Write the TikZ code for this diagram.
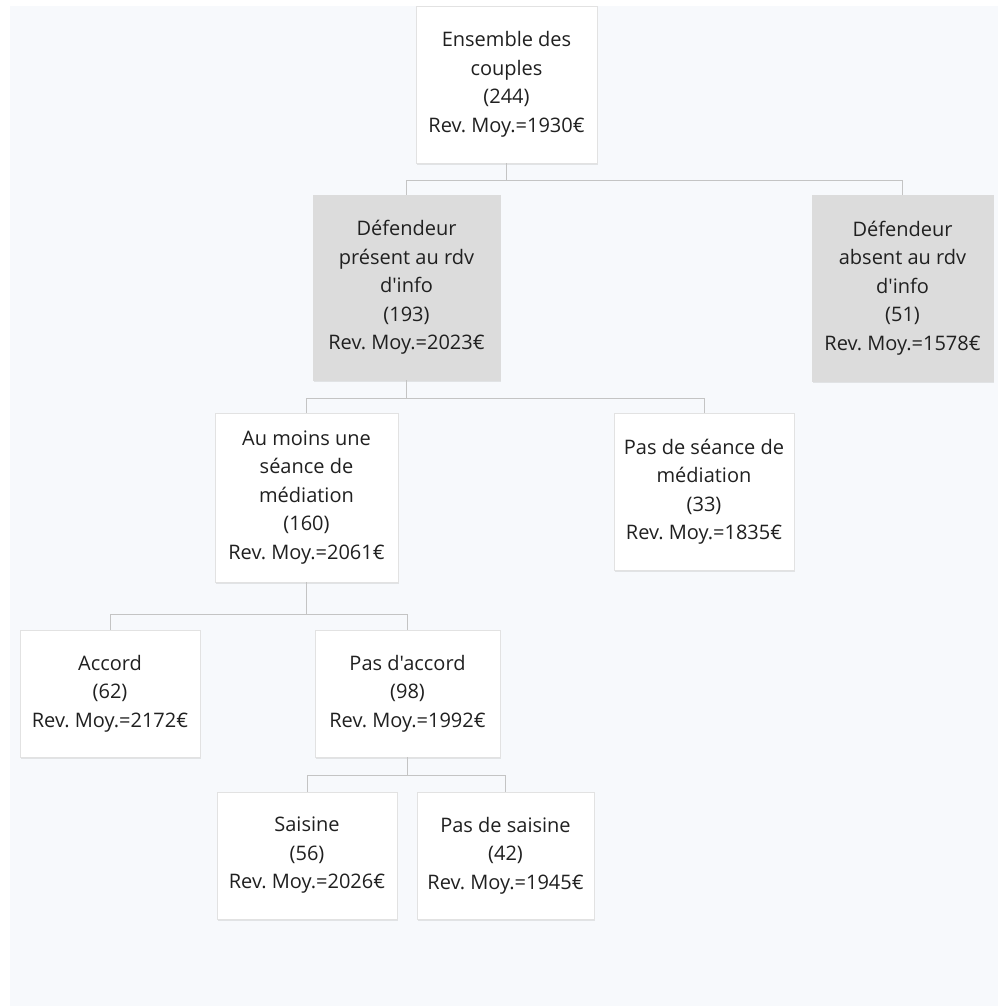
\documentclass[tikz,border=0pt]{standalone}
\usepackage{fontspec}
\setmainfont{Open Sans}[Ligatures=TeXOff]
\usetikzlibrary{shadows}
\definecolor{bgc}{HTML}{F7F9FC}
\definecolor{grayfill}{HTML}{DCDCDC}
\definecolor{linec}{HTML}{C4C4C4}
\definecolor{edgec}{HTML}{E2E2E2}
\definecolor{txt}{HTML}{202020}
\frenchspacing
\begin{document}
\begin{tikzpicture}[x=1pt,y=-1pt,
  box/.style={rectangle, draw=edgec, line width=0.6pt, fill=white, align=center,
    inner sep=0pt, text=txt, font=\fontsize{20}{28.5}\selectfont,
    drop shadow={opacity=0.18, shadow xshift=1pt, shadow yshift=-2pt}},
  graybox/.style={box, fill=grayfill, draw=grayfill},
  conn/.style={draw=linec, line width=1pt}]
\useasboundingbox (0,0) rectangle (998,1006);
\fill[white] (0,0) rectangle (998,1006);
\fill[bgc] (10,6) rectangle (998,1006);

\node[box, minimum width=181pt, minimum height=157pt] (root) at (506.5,84.5)
  {Ensemble des\\couples\\(244)\\Rev. Moy.=1930€};
\node[graybox, minimum width=187pt, minimum height=185pt] (pres) at (406.5,287.5)
  {Défendeur\\présent au rdv\\d'info\\(193)\\Rev. Moy.=2023€};
\node[graybox, minimum width=181pt, minimum height=186pt] (abs) at (902.5,288)
  {Défendeur\\absent au rdv\\d'info\\(51)\\Rev. Moy.=1578€};
\node[box, minimum width=183pt, minimum height=169pt] (aumoins) at (306.5,497.5)
  {Au moins une\\séance de\\médiation\\(160)\\Rev. Moy.=2061€};
\node[box, minimum width=180pt, minimum height=157pt] (passeance) at (704,491.5)
  {Pas de séance de\\médiation\\(33)\\Rev. Moy.=1835€};
\node[box, minimum width=180pt, minimum height=127pt] (accord) at (110,693.5)
  {Accord\\(62)\\Rev. Moy.=2172€};
\node[box, minimum width=185pt, minimum height=127pt] (pasaccord) at (407.5,693.5)
  {Pas d'accord\\(98)\\Rev. Moy.=1992€};
\node[box, minimum width=180pt, minimum height=127pt] (saisine) at (307,855.5)
  {Saisine\\(56)\\Rev. Moy.=2026€};
\node[box, minimum width=177pt, minimum height=127pt] (passaisine) at (505.5,855.5)
  {Pas de saisine\\(42)\\Rev. Moy.=1945€};

\coordinate (j1) at (0,180);
\coordinate (j2) at (0,398);
\coordinate (j3) at (0,614);
\coordinate (j4) at (0,775);

\draw[conn] (root.south) -- (root.south |- j1);
\draw[conn] (pres.north) |- (abs.north |- j1) -- (abs.north);
\draw[conn] (pres.south) -- (pres.south |- j2);
\draw[conn] (aumoins.north) |- (passeance.north |- j2) -- (passeance.north);
\draw[conn] (aumoins.south) -- (aumoins.south |- j3);
\draw[conn] (accord.north) |- (pasaccord.north |- j3) -- (pasaccord.north);
\draw[conn] (pasaccord.south) -- (pasaccord.south |- j4);
\draw[conn] (saisine.north) |- (passaisine.north |- j4) -- (passaisine.north);
\end{tikzpicture}
\end{document}
